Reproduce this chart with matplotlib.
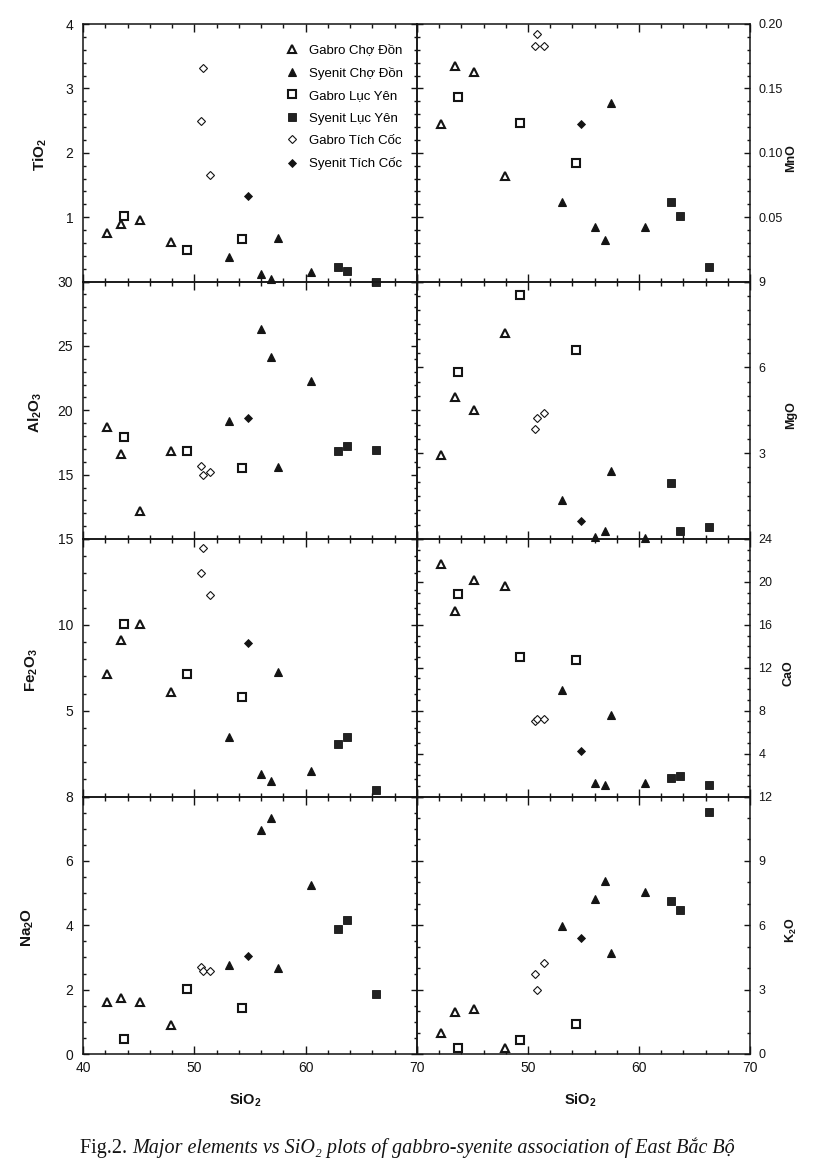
import matplotlib
matplotlib.use("Agg")
import matplotlib.pyplot as plt
from matplotlib.lines import Line2D
from matplotlib.ticker import FixedLocator, FixedFormatter, MultipleLocator

# ---------------- data ----------------
series_labels = ["Gabro Chợ Đồn", "Syenit Chợ Đồn", "Gabro Lục Yên",
                 "Syenit Lục Yên", "Gabro Tích Cốc", "Syenit Tích Cốc"]

gabro_cho_don = dict(
    SiO2=[42.2, 43.4, 45.1, 47.9],
    TiO2=[0.76, 0.90, 0.96, 0.62],
    Al2O3=[18.7, 16.6, 12.2, 16.8],
    Fe2O3=[7.16, 9.14, 10.07, 6.08],
    Na2O=[1.62, 1.75, 1.61, 0.90],
    MnO=[0.122, 0.167, 0.163, 0.082],
    MgO=[2.95, 4.97, 4.51, 7.19],
    CaO=[21.7, 17.3, 20.2, 19.6],
    K2O=[1.00, 1.97, 2.09, 0.28],
)
syenit_cho_don = dict(
    SiO2=[53.1, 56.0, 56.9, 57.5, 60.5],
    TiO2=[0.38, 0.12, 0.04, 0.68, 0.14],
    Al2O3=[19.2, 26.3, 24.1, 15.6, 22.3],
    Fe2O3=[3.45, 1.30, 0.93, 7.26, 1.47],
    Na2O=[2.75, 6.97, 7.33, 2.66, 5.26],
    MnO=[0.062, 0.042, 0.032, 0.139, 0.042],
    MgO=[1.36, 0.06, 0.27, 2.38, 0.02],
    CaO=[9.94, 1.25, 1.09, 7.56, 1.28],
    K2O=[5.96, 7.24, 8.05, 4.72, 7.54],
)
gabro_luc_yen = dict(
    SiO2=[43.7, 49.3, 54.3],
    TiO2=[1.01, 0.49, 0.66],
    Al2O3=[17.9, 16.8, 15.5],
    Fe2O3=[10.07, 7.16, 5.77],
    Na2O=[0.47, 2.02, 1.44],
    MnO=[0.143, 0.123, 0.092],
    MgO=[5.85, 8.52, 6.59],
    CaO=[18.9, 13.0, 12.7],
    K2O=[0.28, 0.67, 1.42],
)
syenit_luc_yen = dict(
    SiO2=[62.9, 63.7, 66.3],
    TiO2=[0.23, 0.17, 0.0],
    Al2O3=[16.8, 17.2, 16.9],
    Fe2O3=[3.08, 3.48, 0.35],
    Na2O=[3.87, 4.16, 1.85],
    MnO=[0.062, 0.051, 0.011],
    MgO=[1.94, 0.29, 0.41],
    CaO=[1.75, 1.91, 1.09],
    K2O=[7.12, 6.69, 11.3],
)
gabro_tich_coc = dict(
    SiO2=[50.6, 50.8, 51.45],
    TiO2=[2.49, 3.32, 1.65],
    Al2O3=[15.7, 15.0, 15.24],
    Fe2O3=[13.0, 14.46, 11.75],
    Na2O=[2.71, 2.57, 2.58],
    MnO=[0.183, 0.1925, 0.183],
    MgO=[3.83, 4.24, 4.41],
    CaO=[7.03, 7.19, 7.22],
    K2O=[3.72, 2.97, 4.23],
)
syenit_tich_coc = dict(
    SiO2=[54.8],
    TiO2=[1.33],
    Al2O3=[19.4],
    Fe2O3=[8.96],
    Na2O=[3.04],
    MnO=[0.122],
    MgO=[0.64],
    CaO=[4.25],
    K2O=[5.42],
)

left_oxides = ["TiO2", "Al2O3", "Fe2O3", "Na2O"]
right_oxides = ["MnO", "MgO", "CaO", "K2O"]
axis_titles = {"TiO2": "TiO$_2$", "Al2O3": "Al$_2$O$_3$", "Fe2O3": "Fe$_2$O$_3$",
               "Na2O": "Na$_2$O", "MnO": "MnO", "MgO": "MgO", "CaO": "CaO",
               "K2O": "K$_2$O"}
y_limits = {"TiO2": (0, 4), "Al2O3": (10, 30), "Fe2O3": (0, 15), "Na2O": (0, 8),
            "MnO": (0, 0.20), "MgO": (0, 9), "CaO": (0, 24), "K2O": (0, 12)}
y_ticks = {"TiO2": [0, 1, 2, 3, 4], "Al2O3": [10, 15, 20, 25, 30],
           "Fe2O3": [0, 5, 10, 15], "Na2O": [0, 2, 4, 6, 8],
           "MnO": [0, 0.05, 0.10, 0.15, 0.20], "MgO": [0, 3, 6, 9],
           "CaO": [0, 4, 8, 12, 16, 20, 24], "K2O": [0, 3, 6, 9, 12]}
y_ticklabels = {"TiO2": ["", "1", "2", "3", "4"],
                "Al2O3": ["", "15", "20", "25", "30"],
                "Fe2O3": ["", "5", "10", "15"],
                "Na2O": ["0", "2", "4", "6", "8"],
                "MnO": ["", "0.05", "0.10", "0.15", "0.20"],
                "MgO": ["", "3", "6", "9"],
                "CaO": ["", "4", "8", "12", "16", "20", "24"],
                "K2O": ["0", "3", "6", "9", "12"]}
y_minor = {"TiO2": 0.2, "Al2O3": 1, "Fe2O3": 1, "Na2O": 0.5,
           "MnO": 0.01, "MgO": 0.5, "CaO": 1, "K2O": 1}
x_ticks = [40, 50, 60, 70]
x_ticklabels_left = ["40", "50", "60", "70"]
x_ticklabels_right = ["", "50", "60", "70"]
x_title = "SiO$_2$"
caption_head = "Fig.2. "
caption_body = "Major elements vs SiO₂ plots of gabbro-syenite association of East Bắc Bộ"

# ---------------- styling ----------------
plt.rcParams["font.family"] = ["Liberation Sans", "DejaVu Sans"]
plt.rcParams["mathtext.default"] = "regular"
INK = "#141414"

groups = [
    (gabro_cho_don, dict(marker="^", ms=6.4, mfc="white", mec=INK, mew=1.5)),
    (syenit_cho_don, dict(marker="^", ms=6.2, mfc=INK, mec=INK, mew=0.8)),
    (gabro_luc_yen, dict(marker="s", ms=6.4, mfc="white", mec=INK, mew=1.5)),
    (syenit_luc_yen, dict(marker="s", ms=6.0, mfc="#222222", mec=INK, mew=0.6)),
    (gabro_tich_coc, dict(marker="D", ms=3.7, mfc="white", mec=INK, mew=0.8)),
    (syenit_tich_coc, dict(marker="D", ms=4.1, mfc=INK, mec=INK, mew=0.6)),
]

W, H = 814, 1175
fig = plt.figure(figsize=(W / 100, H / 100), dpi=100)
row_edges = [24, 281.5, 539, 796.5, 1054]
col_edges = [83, 417, 750]


def rect(x0, y0, x1, y1):
    return [x0 / W, 1 - y1 / H, (x1 - x0) / W, (y1 - y0) / H]


axes = {}
for ci, oxides in enumerate([left_oxides, right_oxides]):
    for ri, ox in enumerate(oxides):
        ax = fig.add_axes(rect(col_edges[ci], row_edges[ri],
                               col_edges[ci + 1], row_edges[ri + 1]))
        ax.patch.set_visible(False)
        ax.set_xlim(40, 70)
        ax.set_ylim(*y_limits[ox])
        for sp in ax.spines.values():
            sp.set_linewidth(1.1)
            sp.set_color(INK)
        # x ticks
        ax.xaxis.set_major_locator(FixedLocator(x_ticks))
        ax.xaxis.set_minor_locator(MultipleLocator(2))
        ax.tick_params(axis="x", which="both", direction="in", top=True,
                       bottom=True, color=INK, width=1.0)
        ax.tick_params(axis="x", which="major", length=5.5)
        ax.tick_params(axis="x", which="minor", length=3.2)
        if ri == 3:
            ax.xaxis.set_major_formatter(FixedFormatter(
                x_ticklabels_left if ci == 0 else x_ticklabels_right))
            ax.tick_params(axis="x", labelsize=10, pad=5, labelcolor=INK)
        else:
            ax.tick_params(axis="x", labelbottom=False)
        # y ticks
        ax.yaxis.set_major_locator(FixedLocator(y_ticks[ox]))
        ax.yaxis.set_major_formatter(FixedFormatter(y_ticklabels[ox]))
        ax.yaxis.set_minor_locator(MultipleLocator(y_minor[ox]))
        ax.tick_params(axis="y", which="both", direction="in", left=True,
                       right=True, color=INK, width=1.0)
        ax.tick_params(axis="y", which="major", length=4.5)
        ax.tick_params(axis="y", which="minor", length=2.4)
        if ci == 0:
            ax.tick_params(axis="y", labelleft=True, labelright=False,
                           labelsize=10, pad=7, labelcolor=INK)
        else:
            ax.tick_params(axis="y", labelleft=False, labelright=True,
                           labelsize=9, pad=6, labelcolor=INK)
        # data
        for grp, style in groups:
            ax.plot(grp["SiO2"], grp[ox], linestyle="none", clip_on=False,
                    zorder=4, **style)
        axes[ox] = ax

# y axis titles
left_title_x = {"TiO2": 40, "Al2O3": 35, "Fe2O3": 32, "Na2O": 28}
right_title_x = {"MnO": 791, "MgO": 791, "CaO": 789, "K2O": 791}
for ri, ox in enumerate(left_oxides):
    yc = (row_edges[ri] + row_edges[ri + 1]) / 2 + 2
    fig.text(left_title_x[ox] / W, 1 - yc / H, axis_titles[ox], rotation=90,
             ha="center", va="center", fontsize=11, fontweight="bold", color=INK)
for ri, ox in enumerate(right_oxides):
    yc = (row_edges[ri] + row_edges[ri + 1]) / 2 + 5
    fig.text(right_title_x[ox] / W, 1 - yc / H, axis_titles[ox], rotation=90,
             ha="center", va="center", fontsize=9, fontweight="bold", color=INK)

# x axis titles
for xc in (245, 580):
    fig.text(xc / W, 1 - 1100 / H, x_title, ha="center", va="center",
             fontsize=10.5, fontweight="bold", color=INK)

# legend
handles = [Line2D([], [], linestyle="none", **style) for _, style in groups]
axes["TiO2"].legend(handles, series_labels, loc="upper left",
                    bbox_to_anchor=(285 / W, 1 - 44 / H),
                    bbox_transform=fig.transFigure, frameon=False,
                    borderpad=0, borderaxespad=0, handlelength=1.0,
                    handletextpad=0.85, labelspacing=0.78,
                    prop=dict(family=["Liberation Sans", "DejaVu Sans"], size=9.5))

# caption
t1 = fig.text(80 / W, 1 - 1148 / H, caption_head, ha="left", va="center",
              fontsize=14.5, family=["Liberation Serif", "DejaVu Serif"], color=INK)
axes["Na2O"].annotate(caption_body, xy=(1, 0.5), xycoords=t1, ha="left",
                      va="center", fontsize=14.5, style="italic",
                      family=["Liberation Serif", "DejaVu Serif"], color=INK,
                      annotation_clip=False)

fig.savefig("out.png", dpi=100)
